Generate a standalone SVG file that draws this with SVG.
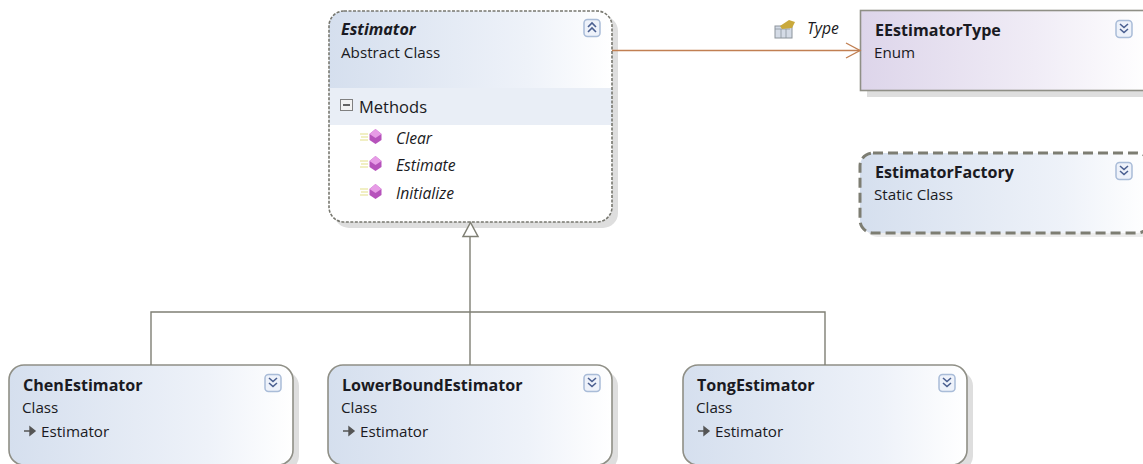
<svg xmlns="http://www.w3.org/2000/svg" xmlns:xlink="http://www.w3.org/1999/xlink" width="1143" height="464" viewBox="0 0 1143 464">
<style>
text{font-family:"Open Sans","Noto Sans","Liberation Sans",sans-serif;fill:#1a1a22}
.t{font-size:16.100px;font-weight:700}
.s{font-size:15.200px}
.m{font-size:15.700px;font-style:italic}
.shadow{fill:#dedede}
.box{stroke:#8f8f86;stroke-width:1.600}
.conn{fill:none;stroke:#7f7f74;stroke-width:1.400}
.btn{fill:#eef2fa;stroke:#a9bcd8;stroke-width:1.500}
.chev{fill:none;stroke:#4a5f90;stroke-width:1.600}
</style>
<defs>
<linearGradient id="blue" x1="0" y1="0" x2="1" y2="0"><stop offset="0" stop-color="#d5dfee"/><stop offset="0.7" stop-color="#eef2f9"/><stop offset="1" stop-color="#ffffff"/></linearGradient>
<linearGradient id="violet" x1="0" y1="0" x2="1" y2="0"><stop offset="0" stop-color="#ddd5ea"/><stop offset="0.6" stop-color="#f0ecf6"/><stop offset="1" stop-color="#ffffff"/></linearGradient>
<g id="down"><rect x="-8" y="-8.500" width="16" height="17" rx="3.500" class="btn"/><path class="chev" d="M-4-5 0-1.500 4-5M-4 0 0 3.500 4 0"/></g>
<g id="up"><rect x="-8" y="-8.500" width="16" height="17" rx="3.500" class="btn"/><path class="chev" d="M-4-1 0-5 4-1M-4 4 0 0 4 4"/></g>
<g id="method"><path d="M360-2h8M361 1h7M360 4h8" stroke="#e4e08a" stroke-width="1.200" fill="none"/><path d="M375.500-7 381.500-2V4L375.500 8 369.500 4V-2z" fill="#b652bb"/><path d="M375.500-7 381.500-2 375.500 2 369.500-2z" fill="#e79ce6"/></g>
<g id="inh"><path d="M0 0H6M6-4 11 0 6 4z" fill="#555" stroke="#555" stroke-width="1.400"/></g>
</defs>
<g id="type-label">
<rect x="775" y="26" width="17" height="12" fill="#d4dbe6" stroke="#8c949c"/>
<path d="M775 29h15M781 29v9M786 29v9" stroke="#8c949c" fill="none" stroke-width=".8"/>
<path d="M780 26l9-6 6 2-3 6-10 1z" fill="#c9a93c"/>
<text x="807" y="34" class="m">Type</text>
</g>
<g id="node-estimator">
<rect x="334" y="16" width="284" height="212" rx="15" class="shadow"/>
<rect x="329" y="11" width="283" height="211" rx="15" fill="#fff"/>
<path d="M329 88V26a15 15 0 0 1 15-15H597a15 15 0 0 1 15 15V88z" fill="url(#blue)"/>
<rect x="329" y="88" width="283" height="37" fill="#e9eef6"/>
<rect x="329" y="11" width="283" height="211" rx="15" fill="none" stroke="#77776f" stroke-width="1.600" stroke-dasharray="3 1.500"/>
<text x="341" y="35" style="font-size:16.100px;font-weight:700;font-style:italic">Estimator</text>
<text x="341" y="58" class="s">Abstract Class</text>
<use xlink:href="#up" href="#up" x="592" y="28"/>
<rect x="340.500" y="99.500" width="12" height="11" fill="#f2f2f2" stroke="#808080"/>
<path d="M343 105h7" stroke="#333" stroke-width="1.500"/>
<text x="359" y="113" style="font-size:16.500px">Methods</text>
<use xlink:href="#method" href="#method" y="136"/>
<text x="396" y="144" class="m">Clear</text>
<use xlink:href="#method" href="#method" y="163"/>
<text x="396" y="171" class="m">Estimate</text>
<use xlink:href="#method" href="#method" y="191"/>
<text x="396" y="199" class="m">Initialize</text>
</g>
<g id="node-eestimatortype">
<rect x="867" y="18" width="290" height="79" class="shadow"/>
<rect x="860.500" y="10.500" width="290" height="80" fill="url(#violet)" class="box"/>
<text x="875" y="36" class="t">EEstimatorType</text>
<text x="874" y="58" class="s">Enum</text>
<use xlink:href="#down" href="#down" x="1124" y="29"/>
</g>
<g id="node-estimatorfactory">
<rect x="865" y="158" width="290" height="79" rx="13" fill="#ececec"/>
<rect x="860" y="153" width="290" height="80" rx="13" fill="url(#blue)" stroke="#7d7d72" stroke-width="3" stroke-dasharray="10 5"/>
<text x="875" y="178" class="t">EstimatorFactory</text>
<text x="874" y="200" class="s">Static Class</text>
<use xlink:href="#down" href="#down" x="1124" y="171"/>
</g>
<g id="node-chenestimator">
<rect x="15" y="371" width="284" height="100" rx="15" class="shadow"/>
<rect x="9" y="365" width="284" height="100" rx="15" fill="url(#blue)" class="box"/>
<text x="23" y="391" class="t">ChenEstimator</text>
<text x="22" y="413" class="s">Class</text>
<use xlink:href="#inh" href="#inh" x="24" y="431"/>
<text x="41" y="437" class="s">Estimator</text>
<use xlink:href="#down" href="#down" x="273" y="383"/>
</g>
<g id="node-lowerboundestimator">
<rect x="334" y="371" width="284" height="100" rx="15" class="shadow"/>
<rect x="328" y="365" width="284" height="100" rx="15" fill="url(#blue)" class="box"/>
<text x="342" y="391" class="t">LowerBoundEstimator</text>
<text x="341" y="413" class="s">Class</text>
<use xlink:href="#inh" href="#inh" x="343" y="431"/>
<text x="360" y="437" class="s">Estimator</text>
<use xlink:href="#down" href="#down" x="592" y="383"/>
</g>
<g id="node-tongestimator">
<rect x="689" y="371" width="284" height="100" rx="15" class="shadow"/>
<rect x="683" y="365" width="284" height="100" rx="15" fill="url(#blue)" class="box"/>
<text x="697" y="391" class="t">TongEstimator</text>
<text x="696" y="413" class="s">Class</text>
<use xlink:href="#inh" href="#inh" x="698" y="431"/>
<text x="715" y="437" class="s">Estimator</text>
<use xlink:href="#down" href="#down" x="947" y="383"/>
</g>
<g id="connectors">
<path d="M151 365V312H825V365M470 365V236" class="conn"/>
<path d="M470.500 222.500 478 236.500H463z" fill="#fff" stroke="#7f7f74" stroke-width="1.500"/>
<path d="M612 50.500H860" fill="none" stroke="#c17f52" stroke-width="1.400"/>
<path d="M846 43 860 50.500 846 58" fill="none" stroke="#c17f52" stroke-width="1.400"/>
</g>
</svg>
